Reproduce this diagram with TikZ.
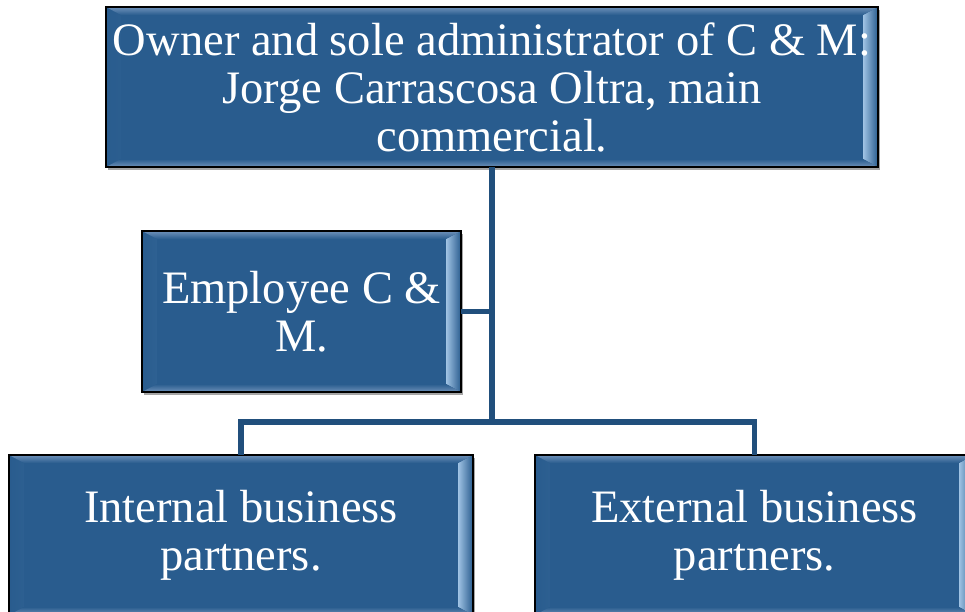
\documentclass[tikz,border=0pt]{standalone}
\usepackage{fontspec}
\setmainfont{Liberation Serif}
\usetikzlibrary{shadows,calc}
\definecolor{boxblue}{RGB}{41,92,142}
\definecolor{bevlight}{RGB}{160,195,228}
\definecolor{bevedge}{RGB}{110,145,185}
\definecolor{connblue}{RGB}{33,79,124}
\tikzset{
  bevelbox/.style={draw=black, line width=1.2pt, fill=boxblue, text=white,
    inner sep=0pt, outer sep=0pt, align=center,
    font=\fontsize{46.5}{48}\selectfont,
    drop shadow={shadow xshift=2pt, shadow yshift=-3pt, opacity=0.35, fill=black},
    path picture={
      \shade[left color=boxblue, middle color=boxblue!85!white, right color=bevlight]
        let \p1=(path picture bounding box.south west), \p2=(path picture bounding box.north east) in
        (\x1,\y1) -- (\x1,\y2) -- (\x1+15pt,\y2-8pt) -- (\x1+15pt,\y1+8pt) -- cycle;
      \shade[left color=bevlight, middle color=boxblue!85!white, right color=boxblue]
        let \p1=(path picture bounding box.south west), \p2=(path picture bounding box.north east) in
        (\x2,\y1) -- (\x2,\y2) -- (\x2-15pt,\y2-8pt) -- (\x2-15pt,\y1+8pt) -- cycle;
      \shade[top color=bevedge, bottom color=boxblue]
        let \p1=(path picture bounding box.south west), \p2=(path picture bounding box.north east) in
        (\x1,\y2) -- (\x2,\y2) -- (\x2-15pt,\y2-8pt) -- (\x1+15pt,\y2-8pt) -- cycle;
      \shade[top color=boxblue, bottom color=bevedge]
        let \p1=(path picture bounding box.south west), \p2=(path picture bounding box.north east) in
        (\x1,\y1) -- (\x2,\y1) -- (\x2-15pt,\y1+8pt) -- (\x1+15pt,\y1+8pt) -- cycle;
    }},
  conn/.style={draw=connblue, line width=5.5pt}
}
\begin{document}
\begin{tikzpicture}[x=1pt, y=-1pt]
\useasboundingbox (0,0) rectangle (965,611);
\node[bevelbox, minimum width=772pt, minimum height=160pt] (top) at (492,87)
  {Owner and sole administrator of C \& M:\\Jorge Carrascosa Oltra, main\\commercial.};
\node[bevelbox, minimum width=319pt, minimum height=161pt] (emp) at (301.5,311.5)
  {Employee C \&\\M.};
\node[bevelbox, minimum width=464pt, minimum height=160pt] (lb) at (241,535)
  {Internal business\\partners.};
\node[bevelbox, minimum width=439pt, minimum height=160pt] (rb) at (754.5,535)
  {External business\\partners.};
\coordinate (hub) at (492,422);
\draw[conn] (top.south) -- (hub);
\draw[conn] (emp.east) -- (emp.east -| hub);
\draw[conn] (lb.north) |- (hub) -| (rb.north);
\end{tikzpicture}
\end{document}
